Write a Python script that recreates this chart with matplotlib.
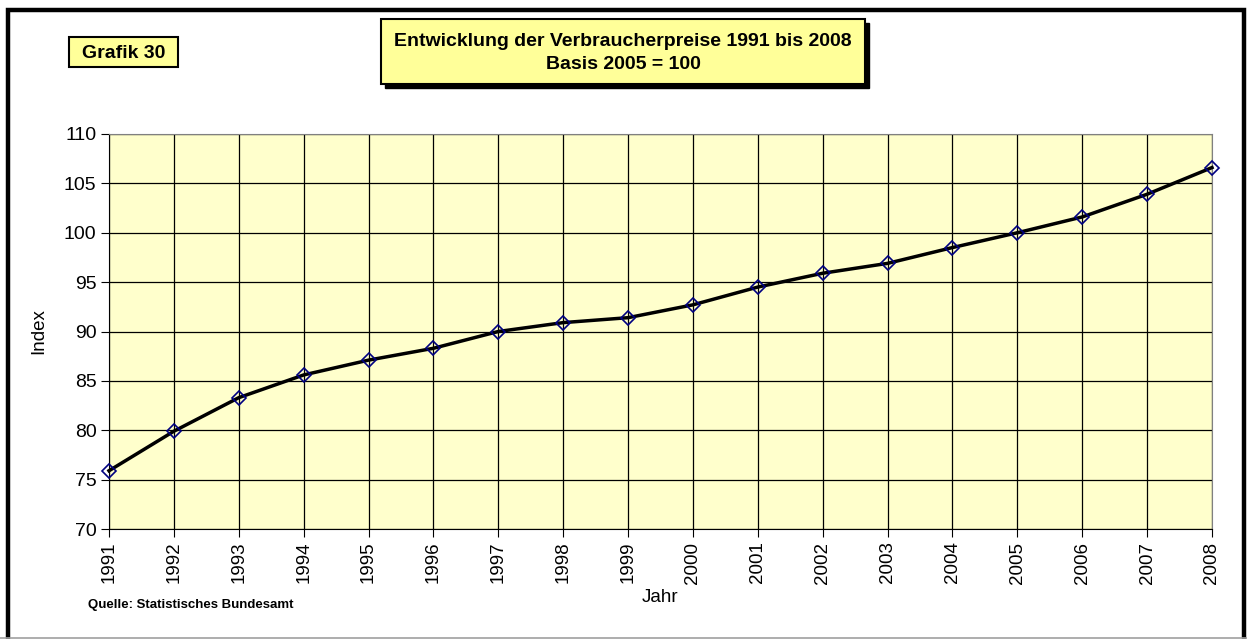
import matplotlib.pyplot as plt
from matplotlib.patches import Rectangle
from matplotlib.lines import Line2D

plt.rcParams['font.family'] = ['Liberation Sans', 'DejaVu Sans']

jahre = [1991, 1992, 1993, 1994, 1995, 1996, 1997, 1998, 1999,
         2000, 2001, 2002, 2003, 2004, 2005, 2006, 2007, 2008]
index_werte = [75.9, 79.9, 83.3, 85.6, 87.1, 88.3, 90.0, 90.9, 91.4,
               92.7, 94.5, 95.9, 96.9, 98.5, 100.0, 101.6, 103.9, 106.6]
y_ticks = [70, 75, 80, 85, 90, 95, 100, 105, 110]

W, H = 1247, 639
fig = plt.figure(figsize=(W / 100, H / 100), dpi=100)


def px_box(x0, y0, x1, y1):
    # pixel box -> figure fractions (left, bottom, width, height)
    return [x0 / W, 1 - y1 / H, (x1 - x0) / W, (y1 - y0) / H]


# outer frame (bottom edge lies outside the picture)
fig.patches.append(Rectangle((8 / W, -10 / H), (1244 - 8) / W, (639 - 10 + 10) / H,
                             transform=fig.transFigure, fill=False,
                             edgecolor='black', linewidth=3.2))
fig.lines.append(Line2D([0, 1], [1.5 / H, 1.5 / H], transform=fig.transFigure,
                        color='#A0A0A0', linewidth=1.2))

ax = fig.add_axes(px_box(109, 134, 1212, 529))
ax.set_facecolor('#FFFFCC')
ax.plot(jahre, index_werte, color='black', linewidth=2.5, marker='D',
        markersize=7.5, markerfacecolor='none', markeredgecolor='#000080',
        markeredgewidth=1.2, zorder=3, clip_on=False)
ax.set_xlim(jahre[0], jahre[-1])
ax.set_ylim(70, 110)
ax.set_xticks(jahre)
ax.set_xticklabels([str(j) for j in jahre], rotation=90, fontsize=13.5)
ax.set_yticks(y_ticks)
ax.set_yticklabels([str(v) for v in y_ticks], fontsize=14)
ax.grid(True, color='black', linewidth=0.9)
ax.set_axisbelow(True)
for side in ['top', 'right']:
    ax.spines[side].set_color('#808080')
for side in ['left', 'bottom']:
    ax.spines[side].set_color('black')
ax.tick_params(direction='out', length=6, color='black', pad=3)
ax.set_xlabel('Jahr', fontsize=13.5, labelpad=4)
ax.set_ylabel('Index', fontsize=13.5, labelpad=12)

# title box with shadow
tx0, ty0, tx1, ty1 = 381, 19, 865, 84
fig.patches.append(Rectangle(((tx0 + 4) / W, 1 - (ty1 + 4) / H),
                             (tx1 - tx0) / W, (ty1 - ty0) / H,
                             transform=fig.transFigure, facecolor='black',
                             edgecolor='black', zorder=5))
fig.patches.append(Rectangle((tx0 / W, 1 - ty1 / H), (tx1 - tx0) / W,
                             (ty1 - ty0) / H, transform=fig.transFigure,
                             facecolor='#FFFF99', edgecolor='black',
                             linewidth=1.5, zorder=6))
fig.text((tx0 + tx1) / 2 / W, 1 - 53 / H,
         'Entwicklung der Verbraucherpreise 1991 bis 2008\nBasis 2005 = 100',
         ha='center', va='center', fontsize=14, fontweight='bold',
         linespacing=1.4, zorder=7)

# Grafik label box
gx0, gy0, gx1, gy1 = 69, 37, 178, 67
fig.patches.append(Rectangle((gx0 / W, 1 - gy1 / H), (gx1 - gx0) / W,
                             (gy1 - gy0) / H, transform=fig.transFigure,
                             facecolor='#FFFF99', edgecolor='black',
                             linewidth=1.5, zorder=6))
fig.text((gx0 + gx1) / 2 / W, 1 - 53 / H, 'Grafik 30', ha='center',
         va='center', fontsize=14, fontweight='bold', zorder=7)

fig.text(88 / W, 1 - 605 / H, 'Quelle: Statistisches Bundesamt',
         ha='left', va='center', fontsize=9.5, fontweight='bold')

fig.savefig('out.png', dpi=100)
